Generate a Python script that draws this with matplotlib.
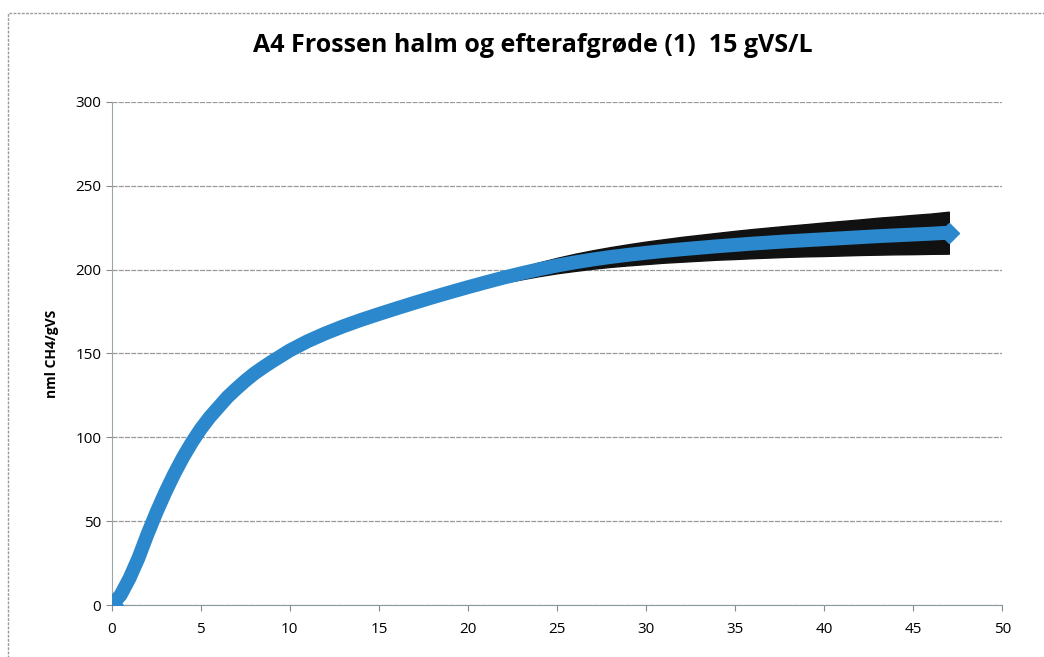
import numpy as np
import matplotlib
matplotlib.use("Agg")
from matplotlib import pyplot as plt

# days since start
days = [0, 0.5, 1, 1.5, 2, 2.5, 3, 3.5, 4, 4.5, 5, 5.5, 6, 6.5, 7, 7.5, 8, 8.5, 9, 9.5,
        10, 11, 12, 13, 14, 15, 16, 17, 18, 19,
        20, 21, 22, 23, 24, 25, 26, 27, 28, 29,
        30, 31, 32, 33, 34, 35, 36, 37, 38, 39,
        40, 41, 42, 43, 44, 45, 46, 47]
# accumulated methane yield, nml CH4/gVS
yield_ch4 = [0, 6, 16, 28, 42, 55, 67, 78, 88, 97, 105, 112, 118, 124, 129, 133.7, 138, 141.7, 145.2, 148.5,
             151.8, 157.3, 162, 166.2, 170, 173.5, 176.9, 180.2, 183.4, 186.5,
             189.5, 192.4, 195.2, 197.8, 200.2, 202.4, 204.3, 206, 207.5, 208.8,
             210, 211.1, 212.1, 213, 213.9, 214.7, 215.5, 216.2, 216.9, 217.5,
             218.1, 218.7, 219.3, 219.9, 220.4, 220.9, 221.4, 222]
# standard deviation (error bars)
std_ch4 = [0] * 20 + [0, 0, 0, 0, 0.5, 0.8, 1, 1.3, 1.6, 1.8,
                      2, 2.5, 3, 3.6, 4.1, 4.6, 5.1, 5.5, 5.9, 6.3,
                      6.7, 7, 7.4, 7.7, 8, 8.4, 8.7, 9, 9.3, 9.6,
                      10, 10.3, 10.6, 11, 11.3, 11.7, 12, 12.5]

title = "A4 Frossen halm og efterafgrøde (1)  15 gVS/L"
ylabel = "nml CH4/gVS"

plt.rcParams['font.family'] = ['Open Sans', 'DejaVu Sans']

fig = plt.figure(figsize=(10.44, 6.57), dpi=100)
ax = fig.add_axes([0.107, 0.079, 0.853, 0.766])

x = np.array(days)
y = np.array(yield_ch4)
s = np.array(std_ch4)

blue = '#2b88cc'
ax.fill_between(x, y - s, y + s, color='#111111', lw=1, edgecolor='#111111', zorder=2)
ax.plot(x, y, color=blue, lw=10, solid_capstyle='butt', solid_joinstyle='round', zorder=3)
ax.plot(x[:1], y[:1], marker='D', ms=11, color=blue, lw=0, zorder=3)
ax.plot(x[-1:], y[-1:], marker='D', ms=10, color=blue, lw=0, zorder=3)

ax.set_xlim(0, 50)
ax.set_ylim(0, 300)
ax.set_xticks(range(0, 51, 5))
ax.set_yticks(range(0, 301, 50))
ax.yaxis.grid(True, color='#999999', lw=0.9, ls=(0, (4, 1)))
ax.set_axisbelow(True)
for side in ['top', 'right']:
    ax.spines[side].set_visible(False)
ax.spines['left'].set_color('#9aa6a6')
ax.spines['bottom'].set_color('#8a9aa0')
ax.tick_params(axis='both', colors='#8a8a8a', labelcolor='black', labelsize=11, length=4)
ax.tick_params(axis='x', pad=8)

ax.set_ylabel(ylabel, fontsize=10, fontweight='bold', labelpad=12)
fig.text(0.51, 0.93, title, ha='center', va='center', fontsize=18, fontweight='bold')

# frame of the scanned chart area
fig.patches.append(plt.Rectangle((0.008, -0.1), 1.1, 1.08, transform=fig.transFigure,
                                 fill=False, edgecolor='#9a9a9a', lw=1, ls=(0, (2, 1))))

fig.savefig('out.png', dpi=100)
